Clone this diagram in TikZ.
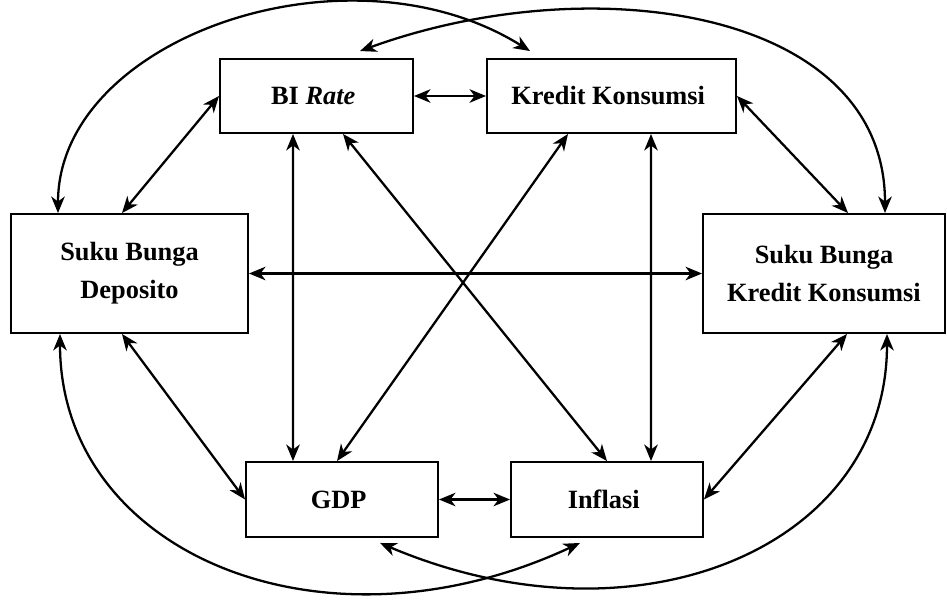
\documentclass[tikz,border=0pt]{standalone}
\usepackage{fontspec}
\setmainfont{Liberation Serif}
\usetikzlibrary{arrows.meta}

\begin{document}
\begin{tikzpicture}[x=0.2mm,y=0.2mm,
  box/.style={rectangle,draw,line width=1.1pt,inner sep=0pt,align=center,font=\fontsize{15}{21.5}\selectfont\bfseries},
  link/.style={{Stealth[length=3.3mm,width=2.7mm,inset=1mm]}-{Stealth[length=3.3mm,width=2.7mm,inset=1mm]},line width=1.3pt}]
\useasboundingbox (0,0) rectangle (947,599);

\node[box,minimum width=38.6mm,minimum height=14.8mm] (bi) at (316.5,503) { BI \textit{Rate} } ;
\node[box,minimum width=49.8mm,minimum height=14.8mm] (kk) at (611.5,503) { Kredit Konsumsi } ;
\node[box,minimum width=47.4mm,minimum height=23.8mm] (sbd) at (129.5,325.5) { Suku Bunga\\Deposito } ;
\node[box,minimum width=48.4mm,minimum height=23.8mm] (sbk) at (824,325.5) { Suku Bunga\\Kredit Konsumsi } ;
\node[box,minimum width=38.4mm,minimum height=15mm] (gdp) at (342,99.5) { GDP } ;
\node[box,minimum width=38.4mm,minimum height=15mm] (inf) at (607,99.5) { Inflasi } ;

\draw[link] (bi) -- (kk) ;
\draw[link] (sbd) -- (sbk) ;
\draw[link] (gdp) -- (inf) ;
\draw[link] ([xshift=-1.5mm]sbd.north) -- (bi.west) ;
\draw[link] (kk.east) -- ([xshift=4.8mm]sbk.north) ;
\draw[link] ([xshift=-4.7mm]bi.south) -- ([xshift=-9.8mm]gdp.north) ;
\draw[link] ([xshift=5.3mm]bi.south) -- (inf.north) ;
\draw[link] ([xshift=-8.7mm]kk.south) -- ([xshift=-1mm]gdp.north) ;
\draw[link] ([xshift=7.9mm]kk.south) -- ([xshift=8.8mm]inf.north) ;
\draw[link] ([xshift=-1.5mm]sbd.south) -- (gdp.west) ;
\draw[link] ([xshift=4.6mm]sbk.south) -- (inf.east) ;
\draw[link] ([xshift=-14.3mm]sbd.north) to[out=90,in=148,out looseness=0.9,in looseness=1.1] ([xshift=-16.3mm,yshift=1.4mm]kk.north) ;
\draw[link] ([xshift=8.7mm,yshift=1.4mm]bi.north) to[out=20,in=90,out looseness=1.15,in looseness=0.95] ([xshift=12.2mm]sbk.north) ;
\draw[link] ([xshift=-13.9mm]sbd.south) to[out=-90,in=205,out looseness=1,in looseness=1.3] ([xshift=-5.4mm,yshift=-1mm]inf.south) ;
\draw[link] ([xshift=7.6mm,yshift=-1mm]gdp.south) to[out=-23,in=-90,out looseness=1.3,in looseness=1] ([xshift=12.6mm]sbk.south) ;

\end{tikzpicture}
\end{document}
